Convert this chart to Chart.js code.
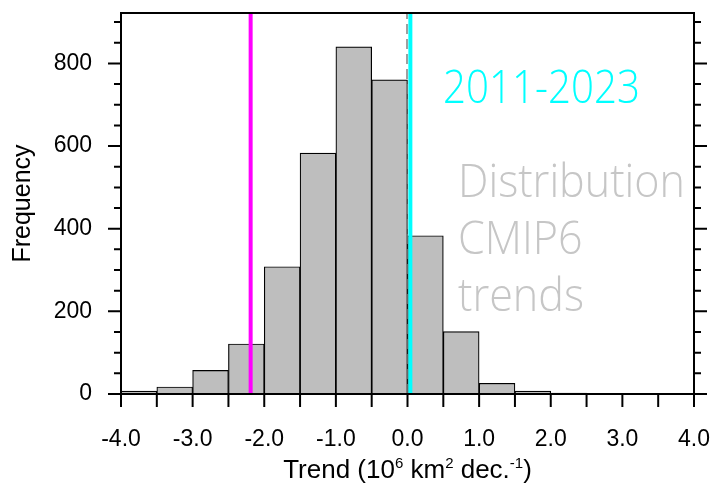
<!DOCTYPE html>
<html>
<head>
<meta charset="utf-8">
<script src="https://cdn.jsdelivr.net/npm/chart.js@4.4.1/dist/chart.umd.min.js"></script>
<style>
  html, body { margin: 0; padding: 0; background: #ffffff; }
  #wrap { width: 715px; height: 485px; }
</style>
</head>
<body>
<div id="wrap"><canvas id="c" width="715" height="485"></canvas></div>
<script>
// Histogram of CMIP6 trends, bins of 0.5 from -4 to 4
const binStarts = [-4.0, -3.5, -3.0, -2.5, -2.0, -1.5, -1.0, -0.5, 0.0, 0.5, 1.0, 1.5, 2.0, 2.5, 3.0, 3.5];
const binWidth = 0.5;
const counts = [7, 17, 57, 121, 308, 583, 840, 760, 383, 151, 26, 7, 2, 0, 0, 0];

// Axis ticks
const xTickValues = [-4, -3, -2, -1, 0, 1, 2, 3, 4];
const xMinorStep = 0.5;
const yTickValues = [0, 200, 400, 600, 800];
const yMinorStep = 50;
const yMax = 922;

// Marker lines
const trendMagenta = -2.19;
const trendCyan = 0.04;
const zeroLine = 0.0;

// Annotation texts
const periodLabel = '2011-2023';
const distLabel = ['Distribution', 'CMIP6', 'trends'];
const yTitle = 'Frequency';
const xTitleParts = [
  { t: 'Trend (10' }, { t: '6', sup: true }, { t: ' km' }, { t: '2', sup: true },
  { t: ' dec.' }, { t: '-1', sup: true }, { t: ')' }
];

const SANS = '"Liberation Sans", Arial, Helvetica, sans-serif';
const LIGHT = '"Open Sans", "Noto Sans", sans-serif';

// Draws text squeezed/stretched to a target width
function drawFitted(ctx, text, left, baseline, font, targetW, color, sx) {
  ctx.save();
  ctx.font = font;
  const w = ctx.measureText(text).width;
  const scale = sx || (targetW / w);
  ctx.translate(left, baseline);
  ctx.scale(scale, 1);
  ctx.fillStyle = color;
  ctx.textAlign = 'left';
  ctx.textBaseline = 'alphabetic';
  ctx.fillText(text, 0, 0);
  ctx.restore();
  return scale;
}

const decorations = {
  id: 'decorations',
  afterDatasetsDraw(chart) {
    const ctx = chart.ctx;
    const xs = chart.scales.x, ys = chart.scales.y;
    const a = chart.chartArea;

    // dashed reference at zero
    ctx.save();
    ctx.strokeStyle = '#808080';
    ctx.lineWidth = 1.5;
    ctx.setLineDash([10, 5]);
    const x0 = xs.getPixelForValue(zeroLine) - 0.5;
    ctx.beginPath(); ctx.moveTo(x0, a.bottom); ctx.lineTo(x0, a.top); ctx.stroke();
    ctx.restore();

    // trend lines
    [[trendCyan, '#00ffff'], [trendMagenta, '#ff00ff']].forEach(([v, col]) => {
      const px = xs.getPixelForValue(v);
      ctx.save();
      ctx.strokeStyle = col;
      ctx.lineWidth = 4;
      ctx.beginPath(); ctx.moveTo(px, a.bottom); ctx.lineTo(px, a.top); ctx.stroke();
      ctx.restore();
    });

    // frame
    ctx.save();
    ctx.strokeStyle = '#000';
    ctx.lineWidth = 2;
    ctx.strokeRect(a.left, a.top, a.right - a.left, a.bottom - a.top);

    // y ticks, both sides, outward
    for (let v = 0; v <= yMax; v += yMinorStep) {
      const py = ys.getPixelForValue(v);
      const major = yTickValues.includes(v);
      const len = major ? 13 : 7;
      ctx.beginPath();
      ctx.moveTo(a.left, py); ctx.lineTo(a.left - len, py);
      ctx.moveTo(a.right, py); ctx.lineTo(a.right + len, py);
      ctx.stroke();
    }
    // x ticks, bottom, outward
    for (let v = -4; v <= 4.0001; v += xMinorStep) {
      const px = xs.getPixelForValue(v);
      ctx.beginPath(); ctx.moveTo(px, a.bottom); ctx.lineTo(px, a.bottom + 13); ctx.stroke();
    }
    ctx.restore();

    // in-plot annotations
    drawFitted(ctx, periodLabel, 443, 103, '300 46px ' + LIGHT, 197, '#00ffff');
    const sx = drawFitted(ctx, distLabel[0], 458, 197, '300 46px ' + LIGHT, 227, '#c6c6c6');
    drawFitted(ctx, distLabel[1], 458, 254, '300 46px ' + LIGHT, 0, '#c6c6c6', sx);
    drawFitted(ctx, distLabel[2], 458, 311, '300 46px ' + LIGHT, 0, '#c6c6c6', sx);

    // axis titles
    ctx.save();
    ctx.fillStyle = '#000';
    ctx.font = '25px ' + SANS;
    ctx.translate(30, (a.top + a.bottom) / 2);
    ctx.rotate(-Math.PI / 2);
    ctx.textAlign = 'center';
    ctx.textBaseline = 'alphabetic';
    ctx.fillText(yTitle, 0, 0);
    ctx.restore();

    ctx.save();
    ctx.fillStyle = '#000';
    ctx.textBaseline = 'alphabetic';
    ctx.textAlign = 'left';
    const mainFont = '26px ' + SANS, supFont = '15px ' + SANS;
    let total = 0;
    xTitleParts.forEach(p => { ctx.font = p.sup ? supFont : mainFont; p.w = ctx.measureText(p.t).width; total += p.w; });
    let cx = (a.left + a.right) / 2 - total / 2;
    const base = 478;
    xTitleParts.forEach(p => {
      ctx.font = p.sup ? supFont : mainFont;
      ctx.fillText(p.t, cx, p.sup ? base - 10 : base);
      cx += p.w;
    });
    ctx.restore();
  }
};

const transparent = 'rgba(0,0,0,0)';
const noPad = s => { s.paddingTop = 0; s.paddingBottom = 0; s.paddingLeft = 0; s.paddingRight = 0; };

new Chart(document.getElementById('c'), {
  type: 'bar',
  data: {
    datasets: [{
      data: binStarts.map((s, i) => ({ x: s + binWidth / 2, y: counts[i] })),
      backgroundColor: '#bebebe',
      borderColor: '#000000',
      borderWidth: 1.2,
      borderSkipped: 'start',
      barPercentage: 1,
      categoryPercentage: 1
    }]
  },
  options: {
    responsive: false,
    animation: false,
    events: [],
    layout: { padding: { left: 0, top: 13, right: 21, bottom: 0 } },
    plugins: { legend: { display: false }, tooltip: { enabled: false } },
    scales: {
      x: {
        type: 'linear',
        min: -4, max: 4,
        offset: false,
        afterBuildTicks: s => { s.ticks = xTickValues.map(v => ({ value: v })); },
        afterFit: s => { s.height = 91; noPad(s); },
        grid: { display: true, drawOnChartArea: false, drawTicks: true, tickLength: 12, color: transparent },
        border: { display: false },
        ticks: {
          font: { family: SANS, size: 23 }, color: '#000', padding: 20,
          maxRotation: 0, autoSkip: false,
          callback: v => Number(v).toFixed(1)
        }
      },
      y: {
        type: 'linear',
        min: 0, max: yMax,
        afterBuildTicks: s => { s.ticks = yTickValues.map(v => ({ value: v })); },
        afterFit: s => { s.width = 121; noPad(s); },
        grid: { display: true, drawOnChartArea: false, drawTicks: true, tickLength: 12, color: transparent },
        border: { display: false },
        ticks: { font: { family: SANS, size: 23 }, color: '#000', padding: 17 }
      }
    }
  },
  plugins: [decorations]
});
</script>
</body>
</html>
